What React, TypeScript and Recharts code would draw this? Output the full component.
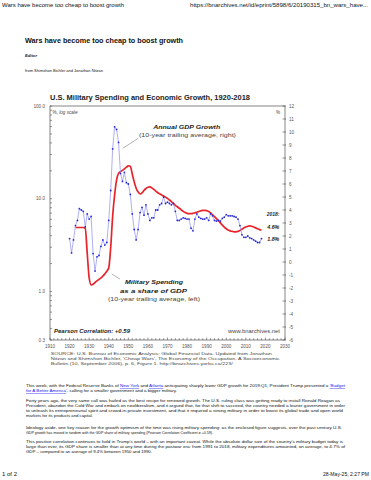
import React from "react"
import { ComposedChart, Line, XAxis, YAxis } from "recharts"

// 10-year trailing average of real GDP growth, % (right axis), 1920-2018
const FIRST_GDP_YEAR = 1920
const gdpGrowth = [
    1.8, 0.7, 1.7, 2.8, 3.2, 4.1, 4.0, 3.9, 2.7, 3.7,
    3.3, 3.5, 0.65, -0.7, 0.4, 0.5, 1.2, 1.7, 1.3, 1.5,
    3.2, 5.5, 8.7, 10.4, 10.2, 9.2, 6.8, 6.2, 6.9, 6.1,
    6.0, 5.2, 3.7, 2.5, 1.7, 2.5, 3.8, 4.2, 3.6, 4.4,
    3.7, 3.2, 3.4, 3.4, 4.0, 4.0, 4.4, 4.5, 5.0, 4.5,
    4.6, 4.5, 4.4, 4.5, 3.9, 3.2, 3.2, 3.3, 3.4, 3.35,
    3.3, 3.3, 2.6, 2.4, 3.3, 3.7, 3.45, 3.35, 3.3, 3.3,
    3.4, 3.2, 3.7, 3.55, 3.2, 3.15, 3.2, 3.15, 3.35, 3.45,
    3.65, 3.55, 3.55, 3.55, 3.5, 3.45, 3.3, 2.8, 2.1, 1.9,
    1.9, 2.0, 1.85, 1.8, 1.7, 1.6, 1.5, 1.5, 1.8,
]

// 10-year trailing average of military spending as % of GDP (left, log), 1923-2018
const FIRST_MIL_YEAR = 1923
const militaryShare = [
    4.9, 4.9, 4.9, 4.9, 4.9, 4.8, 2.6,
    1.4, 1.18, 1.2, 1.25, 1.3, 1.35, 1.4, 1.47, 1.55, 1.65,
    1.8, 3.0, 6.5, 11.0, 16.0, 18.8, 19.6, 20.2, 21.0, 21.9,
    22.6, 22.4, 18.5, 15.2, 13.0, 11.8, 11.3, 11.6, 12.3, 12.9,
    13.3, 13.4, 13.1, 12.6, 12.1, 11.6, 11.3, 11.0, 10.7, 10.4,
    10.1, 9.7, 9.3, 8.9, 8.5, 8.2, 7.9, 7.6, 7.3, 7.1,
    6.95, 6.9, 6.9, 6.95, 7.05, 7.15, 7.3, 7.4, 7.5, 7.5,
    7.45, 7.3, 7.05, 6.7, 6.4, 6.1, 5.8, 5.5, 5.2, 4.95,
    4.75, 4.6, 4.5, 4.45, 4.4, 4.4, 4.45, 4.55, 4.7, 4.85,
    4.95, 5.05, 5.1, 5.05, 4.95, 4.85, 4.75, 4.65, 4.6,
]

const yearLabels = [1910, 1920, 1930, 1940, 1950, 1960, 1970, 1980, 1990, 2000, 2010, 2020, 2030]
const logLabels = [0.3, 1, 10, 100]
const logMinor = [0.4, 0.5, 0.6, 0.7, 0.8, 0.9, 2, 3, 4, 5, 6, 7, 8, 9, 20, 30, 40, 50, 60, 70, 80, 90]
const growthTicks = [-6, -5, -4, -3, -2, -1, 0, 1, 2, 3, 4, 5, 6, 7, 8, 9, 10, 11, 12]

const yearTicks: number[] = []
for (let y = 1910; y <= 2030; y += 2) yearTicks.push(y)

const data = gdpGrowth.map((g, i) => {
    const year = FIRST_GDP_YEAR + i
    const m = year >= FIRST_MIL_YEAR ? militaryShare[year - FIRST_MIL_YEAR] : null
    return { year, gdp: g, mil: m }
})

const FONT = "'Liberation Sans', Arial, sans-serif"
const PLOT = { left: 50, right: 285, top: 106, bottom: 340 }
const AXIS = "#333"
const TICK_TEXT = "#555"

function LeftTick(props: any) {
    const { y, payload } = props
    const major = logLabels.includes(payload.value)
    return (
        <g>
            <line x1={PLOT.left} x2={PLOT.left + 2} y1={y} y2={y} stroke={AXIS} strokeWidth={0.5} />
            {major && (
                <text x={PLOT.left - 5} y={y} dy="0.35em" textAnchor="end" fontSize={4.6} fill={TICK_TEXT} fontFamily={FONT}>
                    {Number(payload.value).toFixed(1)}
                </text>
            )}
        </g>
    )
}

function RightTick(props: any) {
    const { y, payload } = props
    return (
        <g>
            <line x1={PLOT.right - 2.5} x2={PLOT.right + 1} y1={y} y2={y} stroke={AXIS} strokeWidth={0.5} />
            <text x={PLOT.right + 4} y={y} dy="0.35em" textAnchor="start" fontSize={4.6} fill={TICK_TEXT} fontFamily={FONT}>
                {payload.value}
            </text>
        </g>
    )
}

function BottomTick(props: any) {
    const { x, payload } = props
    const major = yearLabels.includes(payload.value)
    return (
        <g>
            <line x1={x} x2={x} y1={PLOT.bottom} y2={PLOT.bottom - (major ? 2.5 : 1.8)} stroke={AXIS} strokeWidth={0.5} />
            {major && (
                <text x={x} y={PLOT.bottom + 6} dy="0.35em" textAnchor="middle" fontSize={4.6} fill={TICK_TEXT} fontFamily={FONT}>
                    {payload.value}
                </text>
            )}
        </g>
    )
}

type Txt = {
    t: React.ReactNode
    x: number
    y: number
    size: number
    w?: number
    anchor?: "start" | "middle" | "end"
    bold?: boolean
    italic?: boolean
    fill?: string
}

const L = ({ children }: { children: React.ReactNode }) => (
    <tspan fill="#1a1aee" textDecoration="underline">{children}</tspan>
)

const texts: Txt[] = [
    { t: "Wars have become too cheap to boost growth", x: 2, y: 5, size: 5, w: 122 },
    { t: "https://bnarchives.net/id/eprint/5898/6/20190315_bn_wars_have...", x: 190, y: 5, size: 5, w: 178 },
    { t: "Wars have become too cheap to boost growth", x: 25, y: 40.7, size: 6.8, w: 158, bold: true },
    { t: "Editor", x: 25, y: 56, size: 4, w: 12, bold: true, italic: true },
    { t: "from Shimshon Bichler and Jonathan Nitzan", x: 25, y: 70.7, size: 4, w: 78 },
    { t: "U.S. Military Spending and Economic Growth, 1920-2018", x: 50, y: 97.7, size: 6.3, w: 200, bold: true, fill: "#222" },
    { t: <>%, <tspan fontStyle="italic">log scale</tspan></>, x: 52.5, y: 112.5, size: 4.6, w: 25, fill: "#444" },
    { t: "%", x: 280, y: 112, size: 4.6, anchor: "end", fill: "#444" },
    { t: "Annual GDP Growth", x: 186.7, y: 126.7, size: 5.6, w: 67, anchor: "middle", bold: true, italic: true, fill: "#222" },
    { t: "(10-year trailing average, right)", x: 187.5, y: 135, size: 5.2, w: 97, anchor: "middle", fill: "#444" },
    { t: "Military Spending", x: 154, y: 281.7, size: 5.6, w: 58, anchor: "middle", bold: true, italic: true, fill: "#222" },
    { t: "as a share of GDP", x: 153.5, y: 290.7, size: 5.6, w: 67, anchor: "middle", bold: true, italic: true, fill: "#222" },
    { t: "(10-year trailing average, left)", x: 154, y: 299, size: 5.2, w: 92, anchor: "middle", fill: "#444" },
    { t: "2018:", x: 279.3, y: 214, size: 4.5, w: 12.6, anchor: "end", bold: true, italic: true, fill: "#222" },
    { t: "4.6%", x: 279.3, y: 227.3, size: 4.5, w: 12, anchor: "end", bold: true, italic: true, fill: "#222" },
    { t: "1.8%", x: 279.3, y: 239.3, size: 4.5, w: 12, anchor: "end", bold: true, italic: true, fill: "#222" },
    { t: "Pearson Correlation: +0.59", x: 54, y: 331.7, size: 4.8, w: 76, bold: true, italic: true, fill: "#222" },
    { t: "www.bnarchives.net", x: 280, y: 331, size: 4.6, w: 52, anchor: "end", fill: "#444" },
    { t: "SOURCE: U.S. Bureau of Economic Analysis; Global Financial Data. Updated from Jonathan", x: 50.7, y: 353.3, size: 4.3, w: 221, fill: "#444" },
    { t: "Nitzan and Shimshon Bichler, 'Cheap Wars', The Economy of the Occupation. A Socioeconomic", x: 50.7, y: 358.3, size: 4.3, w: 229, fill: "#444" },
    { t: "Bulletin (10, September 2006), p. 6, Figure 1. http://bnarchives.yorku.ca/223/", x: 50.7, y: 363.3, size: 4.3, w: 182, fill: "#444" },
    {
        t: <>This week, with the Federal Reserve Banks of <L>New York</L> and <L>Atlanta</L> anticipating sharply lower GDP growth for 2019:Q1, President Trump presented a <L>'Budget</L></>,
        x: 26, y: 385.7, size: 4.1, w: 319,
    },
    { t: <><L>for A Better America</L>', calling for a smaller government and a bigger military.</>, x: 26, y: 391, size: 4.1, w: 151 },
    { t: "Forty years ago, the very same call was hailed as the best recipe for renewed growth. The U.S. ruling class was getting ready to install Ronald Reagan as", x: 26, y: 401, size: 4.1, w: 314 },
    { t: "President, abandon the Cold War and embark on neoliberalism, and it argued that, for that shift to succeed, the country needed a leaner government in order", x: 26, y: 405.7, size: 4.1, w: 319 },
    { t: "to unleash its entrepreneurial spirit and crowd-in private investment, and that it required a strong military in order to boost its global trade and open world", x: 26, y: 410.7, size: 4.1, w: 317 },
    { t: "markets for its products and capital.", x: 26, y: 415.3, size: 4.1, w: 67 },
    { t: "Ideology aside, one key reason for the growth optimism of the time was rising military spending: as the enclosed figure suggests, over the past century U.S.", x: 26, y: 427.7, size: 4.1, w: 316 },
    { t: "GDP growth has moved in tandem with the GDP share of military spending (Pearson Correlation Coefficient = +0.59).", x: 26, y: 432.3, size: 4.1, w: 187 },
    { t: "This positive correlation continues to hold in Trump's world \u2013 with an important caveat. While the absolute dollar size of the country's military budget today is", x: 26, y: 441.7, size: 4.1, w: 317 },
    { t: "large than ever, its GDP share is smaller than at any time during the postwar era: from 1991 to 2018, military expenditures amounted, on average, to 4.7% of", x: 26, y: 446.3, size: 4.1, w: 319 },
    { t: "GDP \u2013 compared to an average of 9.4% between 1950 and 1990.", x: 26, y: 451.3, size: 4.1, w: 126 },
    { t: "1 of 2", x: 2, y: 474, size: 5, w: 15 },
    { t: "28-May-25, 2:27 PM", x: 369, y: 474, size: 5, w: 46, anchor: "end" },
]

export default function App() {
    return (
        <div style={{ position: "absolute", left: 0, top: 0, width: 371, height: 480, background: "#fff", overflow: "hidden" }}>
            <div style={{ position: "absolute", left: 0, top: 0 }}>
                <ComposedChart
                    width={371}
                    height={480}
                    data={data}
                    margin={{ top: PLOT.top, right: 371 - PLOT.right - 25, bottom: 480 - PLOT.bottom - 15, left: PLOT.left - 25 }}
                >
                    <XAxis
                        dataKey="year"
                        type="number"
                        domain={[1910, 2030]}
                        ticks={yearTicks}
                        interval={0}
                        tick={BottomTick}
                        tickLine={false}
                        axisLine={false}
                        height={15}
                        allowDataOverflow
                    />
                    <YAxis
                        yAxisId="left"
                        type="number"
                        scale="log"
                        domain={[0.3, 100]}
                        ticks={[...logLabels, ...logMinor].sort((a, b) => a - b)}
                        interval={0}
                        tick={LeftTick}
                        tickLine={false}
                        axisLine={false}
                        width={25}
                        allowDataOverflow
                    />
                    <YAxis
                        yAxisId="right"
                        orientation="right"
                        type="number"
                        domain={[-6, 12]}
                        ticks={growthTicks}
                        interval={0}
                        tick={RightTick}
                        tickLine={false}
                        axisLine={false}
                        width={25}
                        allowDataOverflow
                    />
                    <Line
                        yAxisId="left"
                        dataKey="mil"
                        type="monotone"
                        stroke="#e8242b"
                        strokeWidth={1.7}
                        dot={false}
                        isAnimationActive={false}
                    />
                    <Line
                        yAxisId="right"
                        dataKey="gdp"
                        type="linear"
                        stroke="#8c8cf0"
                        strokeWidth={0.7}
                        dot={{ r: 0.9, fill: "#2828d8", stroke: "#2828d8", strokeWidth: 0 }}
                        isAnimationActive={false}
                    />
                </ComposedChart>
            </div>
            <svg width={371} height={480} style={{ position: "absolute", left: 0, top: 0, pointerEvents: "none" }}>
                <rect
                    x={PLOT.left}
                    y={PLOT.top}
                    width={PLOT.right - PLOT.left}
                    height={PLOT.bottom - PLOT.top}
                    fill="none"
                    stroke={AXIS}
                    strokeWidth={0.6}
                />
                <line x1={138.3} y1={138.3} x2={122.7} y2={148.3} stroke="#666" strokeWidth={0.5} />
                <line x1={111.7} y1={274} x2={120} y2={279} stroke="#666" strokeWidth={0.5} />
                {texts.map((d, i) => (
                    <text
                        key={i}
                        x={d.x}
                        y={d.y}
                        dy="0.35em"
                        fontSize={d.size}
                        fontFamily={FONT}
                        fontWeight={d.bold ? "bold" : "normal"}
                        fontStyle={d.italic ? "italic" : "normal"}
                        textAnchor={d.anchor ?? "start"}
                        fill={d.fill ?? "#111"}
                        textLength={d.w}
                        lengthAdjust={d.w ? "spacingAndGlyphs" : undefined}
                    >
                        {d.t}
                    </text>
                ))}
            </svg>
        </div>
    )
}
